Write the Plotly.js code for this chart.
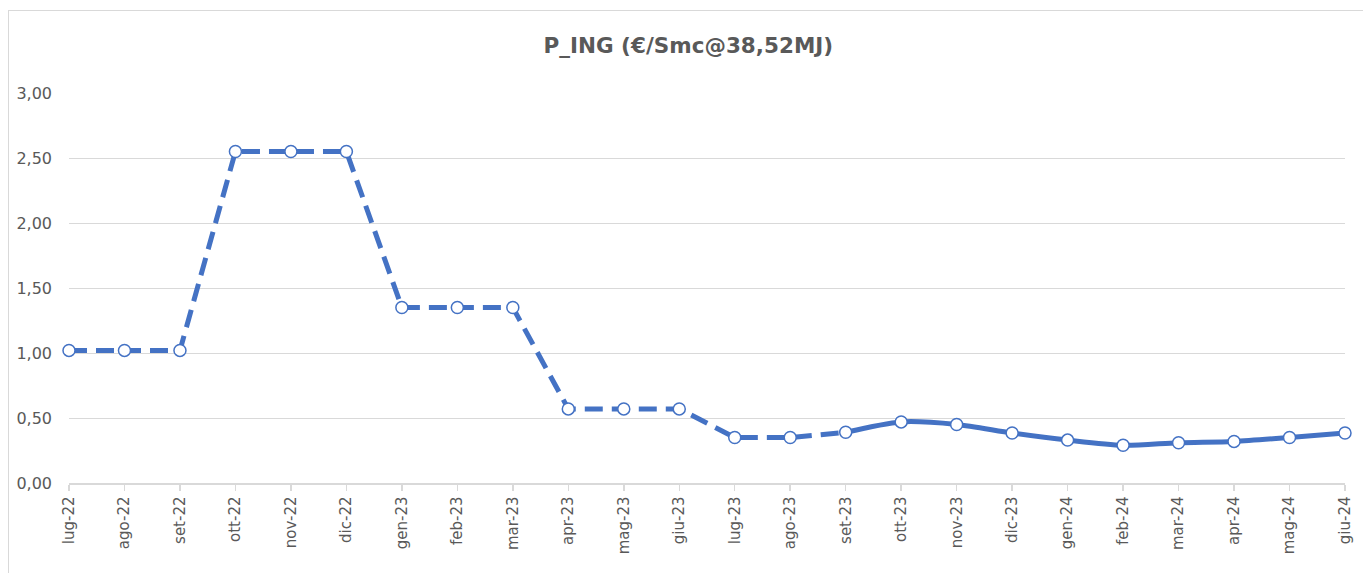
<!DOCTYPE html>
<html>
<head>
<meta charset="utf-8">
<script src="https://cdn.plot.ly/plotly-3.0.1.min.js"></script>
<style>
  body { margin: 0; background: #fff; }
  #wrap { position: relative; width: 1363px; height: 573px; }
  #chart { width: 1363px; height: 573px; }
  #frame {
    position: absolute; left: 8px; top: 10px; right: -4px; bottom: -4px;
    border-left: 1.5px solid #d9d9d9; border-top: 1.5px solid #d9d9d9;
    pointer-events: none;
  }
</style>
</head>
<body>
<div id="wrap">
  <div id="chart"></div>
  <div id="frame"></div>
</div>
<script>
// mesi e valori P_ING
var months = ['lug-22','ago-22','set-22','ott-22','nov-22','dic-22',
              'gen-23','feb-23','mar-23','apr-23','mag-23','giu-23',
              'lug-23','ago-23','set-23','ott-23','nov-23','dic-23',
              'gen-24','feb-24','mar-24','apr-24','mag-24','giu-24'];
var p_ing = [1.02, 1.02, 1.02, 2.55, 2.55, 2.55,
             1.35, 1.35, 1.35, 0.57, 0.57, 0.57,
             0.35, 0.35, 0.39, 0.47, 0.45, 0.385,
             0.33, 0.29, 0.31, 0.32, 0.35, 0.385];
var yTicks = [0, 0.5, 1, 1.5, 2, 2.5, 3];
var yTickText = ['0,00','0,50','1,00','1,50','2,00','2,50','3,00'];

// parte tratteggiata fino a set-23, poi linea continua
var split = 14;
var blue = '#4472c4';

var marker = {
  size: 12,
  color: '#ffffff',
  line: { color: blue, width: 1.5 }
};

var dashed = {
  x: months.slice(0, split + 1),
  y: p_ing.slice(0, split + 1),
  type: 'scatter',
  mode: 'lines',
  line: { color: blue, width: 5, dash: '18px,9px' },
  cliponaxis: false,
  hoverinfo: 'skip'
};

var solid = {
  x: months.slice(split),
  y: p_ing.slice(split),
  type: 'scatter',
  mode: 'lines',
  line: { color: blue, width: 5, shape: 'spline', smoothing: 0.8 },
  cliponaxis: false,
  hoverinfo: 'skip'
};

var points = {
  x: months,
  y: p_ing,
  type: 'scatter',
  mode: 'markers',
  marker: marker,
  cliponaxis: false
};

var layout = {
  width: 1363,
  height: 573,
  showlegend: false,
  paper_bgcolor: 'rgba(0,0,0,0)',
  plot_bgcolor: '#ffffff',
  margin: { l: 69, r: 18, t: 93, b: 90 },
  title: {
    text: '<b>P_ING (€/Smc@38,52MJ)</b>',
    x: 0.505,
    xanchor: 'center',
    y: 0.921,
    yanchor: 'middle',
    font: { family: 'DejaVu Sans, Verdana, sans-serif', size: 21.5, color: '#595959' }
  },
  xaxis: {
    type: 'category',
    categoryorder: 'array',
    categoryarray: months,
    range: [0, months.length - 1],
    showgrid: false,
    zeroline: false,
    showline: true,
    linecolor: '#d9d9d9',
    linewidth: 1.5,
    ticks: 'outside',
    ticklen: 6,
    tickcolor: '#d9d9d9',
    tickwidth: 1.5,
    tickangle: -90,
    tickfont: { family: 'DejaVu Sans, Verdana, sans-serif', size: 15, color: '#595959' },
    fixedrange: true
  },
  yaxis: {
    range: [0, 3],
    tickvals: yTicks,
    ticktext: yTickText,
    showgrid: true,
    gridcolor: '#d9d9d9',
    gridwidth: 1,
    zeroline: false,
    showline: false,
    ticks: '',
    ticklabelstandoff: 16,
    tickfont: { family: 'DejaVu Sans, Verdana, sans-serif', size: 16, color: '#595959' },
    fixedrange: true
  }
};

Plotly.newPlot('chart', [dashed, solid, points], layout, { displayModeBar: false, staticPlot: true });
</script>
</body>
</html>
